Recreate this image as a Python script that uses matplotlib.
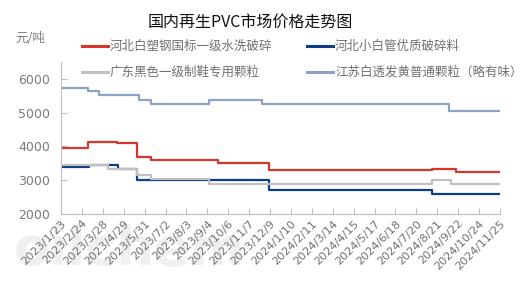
import matplotlib
matplotlib.use("Agg")
import matplotlib.pyplot as plt
from matplotlib.lines import Line2D
import pandas as pd

plt.rcParams['font.family'] = ['Noto Sans CJK SC', 'DejaVu Sans']

title = "国内再生PVC市场价格走势图"
unit = "元/吨"
names = ["河北白塑钢国标一级水洗破碎", "河北小白管优质破碎料",
         "广东黑色一级制鞋专用颗粒", "江苏白透发黄普通颗粒（略有味）"]
colors = ["#d7362a", "#0b3d8b", "#c0c0c0", "#8aa3c6"]

red_dates = ["2023-01-23", "2023-03-06", "2023-04-18", "2023-05-20", "2023-06-10",
             "2023-09-20", "2023-12-07", "2024-08-13", "2024-09-18", "2024-11-25"]
red_vals = [3950, 4130, 4100, 3680, 3590, 3510, 3300, 3330, 3250, 3250]

blue_dates = ["2023-01-23", "2023-03-07", "2023-04-20", "2023-05-20",
              "2023-12-07", "2024-08-13", "2024-11-25"]
blue_vals = [3400, 3460, 3330, 3000, 2720, 2600, 2600]

gray_dates = ["2023-01-23", "2023-04-05", "2023-05-20", "2023-06-10",
              "2023-09-07", "2024-08-13", "2024-09-11", "2024-11-25"]
gray_vals = [3450, 3330, 3150, 3030, 2900, 3010, 2900, 2900]

lb_dates = ["2023-01-23", "2023-03-06", "2023-03-22", "2023-05-23", "2023-06-10",
            "2023-09-07", "2023-11-26", "2024-08-13", "2024-09-08", "2024-11-25"]
lb_vals = [5730, 5630, 5530, 5380, 5270, 5380, 5270, 5250, 5050, 5050]

tick_dates = pd.date_range("2023-01-23", periods=22, freq="32D")
tick_labels = [f"{d.year}/{d.month}/{d.day}" for d in tick_dates]

W, H = 522, 294
fig = plt.figure(figsize=(5.22, 2.94), dpi=100)

# faint watermark
fig.text(130/W, 1-250/H, "oilchem", ha="center", va="center", fontsize=38,
         color="#f0f0f0", fontweight="bold", zorder=-5, family="DejaVu Sans")

ax = fig.add_axes([61/W, 1-214/H, (500-61)/W, (214-62)/H])
ax.patch.set_alpha(0)

series = [(red_dates, red_vals), (blue_dates, blue_vals),
          (gray_dates, gray_vals), (lb_dates, lb_vals)]
for (d, v), c, n in zip(series, colors, names):
    ax.step(pd.to_datetime(d), v, where="post", color=c, lw=1.6, label=n)

ax.set_xlim(tick_dates[0], tick_dates[-1])
ax.set_ylim(2000, 6500)
ax.set_yticks([2000, 3000, 4000, 5000, 6000])
ax.set_xticks(tick_dates)
ax.set_xticklabels(tick_labels, rotation=45, ha="right", rotation_mode="anchor",
                   fontsize=8.2, color="#707070", family="DejaVu Sans")
for lab in ax.get_yticklabels():
    lab.set_fontsize(9)
    lab.set_color("#7a7a7a")
    lab.set_family("DejaVu Sans")
ax.tick_params(axis="x", direction="in", length=4, color="#bfbfbf", pad=3)
ax.tick_params(axis="y", direction="in", length=4, color="#bfbfbf", pad=8)
for s in ["top", "right"]:
    ax.spines[s].set_visible(False)
for s in ["left", "bottom"]:
    ax.spines[s].set_color("#bfbfbf")

fig.text(250/W, 1-22/H, title, ha="center", va="center", fontsize=11.5, color="#111111")
fig.text(30/W, 1-38/H, unit, ha="center", va="center", fontsize=9, color="#7a7a7a")

# manual legend: (line x start, row y) for each series
leg_pos = [(82, 46), (307, 46), (82, 72), (307, 72)]
for (x0, y0), c, n in zip(leg_pos, colors, names):
    fig.add_artist(Line2D([x0/W, (x0+26)/W], [1-y0/H, 1-y0/H], color=c, lw=2.2,
                          transform=fig.transFigure))
    fig.text((x0+28)/W, 1-y0/H, n, ha="left", va="center", fontsize=9, color="#707070")

fig.savefig("out.png", dpi=100)
